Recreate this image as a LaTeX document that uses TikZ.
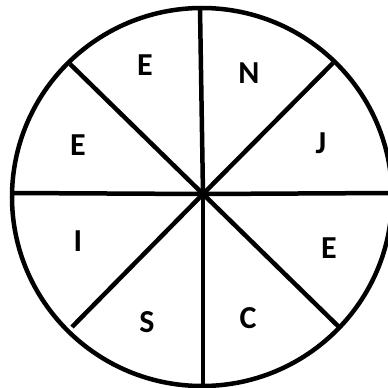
\documentclass[tikz,border=0pt]{standalone}
\usepackage{fontspec}
\setmainfont{Carlito}
\begin{document}
\begin{tikzpicture}[x=1pt,y=-1pt,
  rim/.style={line width=4.5pt},
  spoke/.style={line width=4.5pt},
  letter/.style={font=\bfseries\fontsize{32}{32}\selectfont, inner sep=0pt, text height=20pt, text depth=0pt, anchor=center}]
\useasboundingbox (0,0) rectangle (388,388);
\begin{scope}
\clip (0,0) rectangle (388,388);
\draw[rim] (202,197) ellipse [x radius=190, y radius=189];
\coordinate (c) at (203,194);
\coordinate (t) at (200,8);
\coordinate (b) at (203,390);
\coordinate (l) at (12,193);
\coordinate (r) at (392,193);
\coordinate (ul) at (70,64);
\coordinate (ur) at (333,63);
\coordinate (lr) at (339,327);
\coordinate (ll) at (72,327);
\foreach \p in {t,b,l,r,ul,ur,lr,ll} \draw[spoke] (c) -- (\p);
\end{scope}
\node[letter] (e1) at (145,65) {E};
\node[letter] (n) at (249,73) {N};
\node[letter] (j) at (321,143) {J};
\node[letter] (e2) at (78,145) {E};
\node[letter] (i) at (78,241) {I};
\node[letter] (e3) at (329,248) {E};
\node[letter] (s) at (147,322) {S};
\node[letter] (cc) at (248,318) {C};
\end{tikzpicture}
\end{document}
